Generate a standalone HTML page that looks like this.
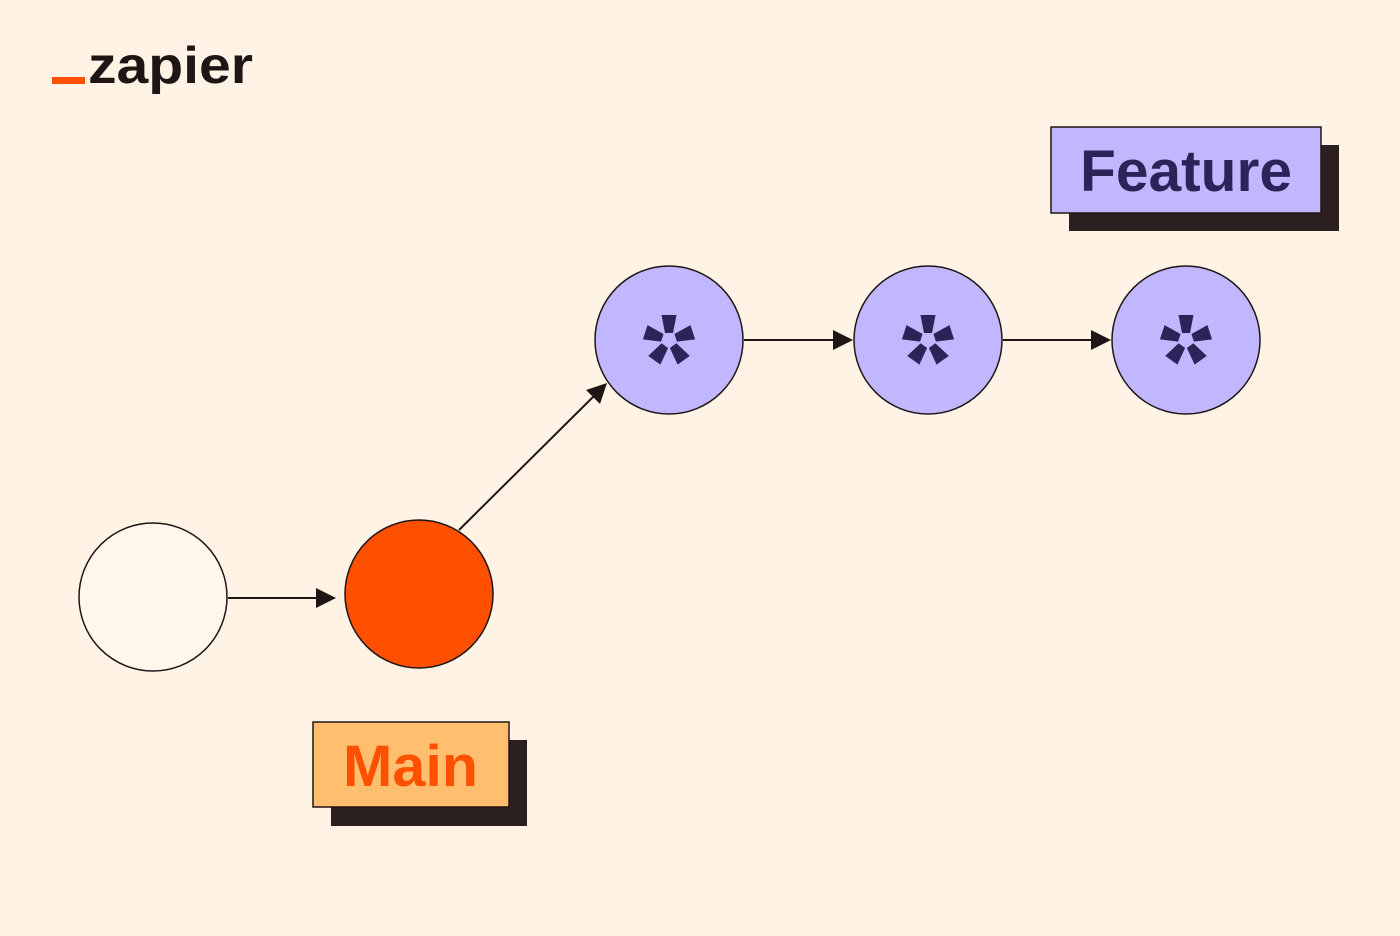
<!DOCTYPE html>
<html><head><style>
body{margin:0;background:#fef3e5;}
svg{display:block;}
text{font-family:"Liberation Sans",Arial,sans-serif;font-weight:bold;}
</style></head><body>
<svg width="1400" height="936" viewBox="0 0 1400 936" xmlns="http://www.w3.org/2000/svg">
<defs>
<g id="ast">
 <path d="M-7.5,-25 L7.5,-25 L4,-7 L-4,-7 Z"/>
 <path d="M-7.5,-25 L7.5,-25 L4,-7 L-4,-7 Z" transform="rotate(72)"/>
 <path d="M-7.5,-25 L7.5,-25 L4,-7 L-4,-7 Z" transform="rotate(144)"/>
 <path d="M-7.5,-25 L7.5,-25 L4,-7 L-4,-7 Z" transform="rotate(216)"/>
 <path d="M-7.5,-25 L7.5,-25 L4,-7 L-4,-7 Z" transform="rotate(288)"/>
</g>
</defs>
<rect width="1400" height="936" fill="#fef3e5"/>
<rect x="52" y="77" width="33" height="7" fill="#ff4f00"/>
<text x="88" y="83" font-size="52" fill="#201515" textLength="165" lengthAdjust="spacingAndGlyphs">zapier</text>
<g stroke="#201515" stroke-width="2">
<line x1="228" y1="598" x2="320" y2="598"/>
<line x1="459" y1="530" x2="596" y2="394"/>
<line x1="744" y1="340" x2="836" y2="340"/>
<line x1="1003" y1="340" x2="1094" y2="340"/>
</g>
<g fill="#201515">
<polygon points="336,598 316,588 316,608"/>
<polygon points="607,383 600,404 586,390"/>
<polygon points="853,340 833,330 833,350"/>
<polygon points="1111,340 1091,330 1091,350"/>
</g>
<g stroke="#201515" stroke-width="1.5">
<circle cx="153" cy="597" r="74" fill="#fff7ec"/>
<circle cx="419" cy="594" r="74" fill="#ff4f00"/>
<circle cx="669" cy="340" r="74" fill="#c1b7ff"/>
<circle cx="928" cy="340" r="74" fill="#c1b7ff"/>
<circle cx="1186" cy="340" r="74" fill="#c1b7ff"/>
</g>
<g fill="#2a2459">
<use href="#ast" transform="translate(669,340)"/>
<use href="#ast" transform="translate(928,340)"/>
<use href="#ast" transform="translate(1186,340)"/>
</g>
<rect x="1069" y="145" width="270" height="86" fill="#2b1f1f"/>
<rect x="1051" y="127" width="270" height="86" fill="#c1b7ff" stroke="#201515" stroke-width="1.5"/>
<text x="1080" y="191" font-size="58" fill="#2a2459" textLength="212" lengthAdjust="spacingAndGlyphs">Feature</text>
<rect x="331" y="740" width="196" height="86" fill="#2b1f1f"/>
<rect x="313" y="722" width="196" height="85" fill="#ffbf6e" stroke="#201515" stroke-width="1.5"/>
<text x="343" y="786" font-size="58" fill="#ff4f00" textLength="135" lengthAdjust="spacingAndGlyphs">Main</text>
</svg>
</body></html>
